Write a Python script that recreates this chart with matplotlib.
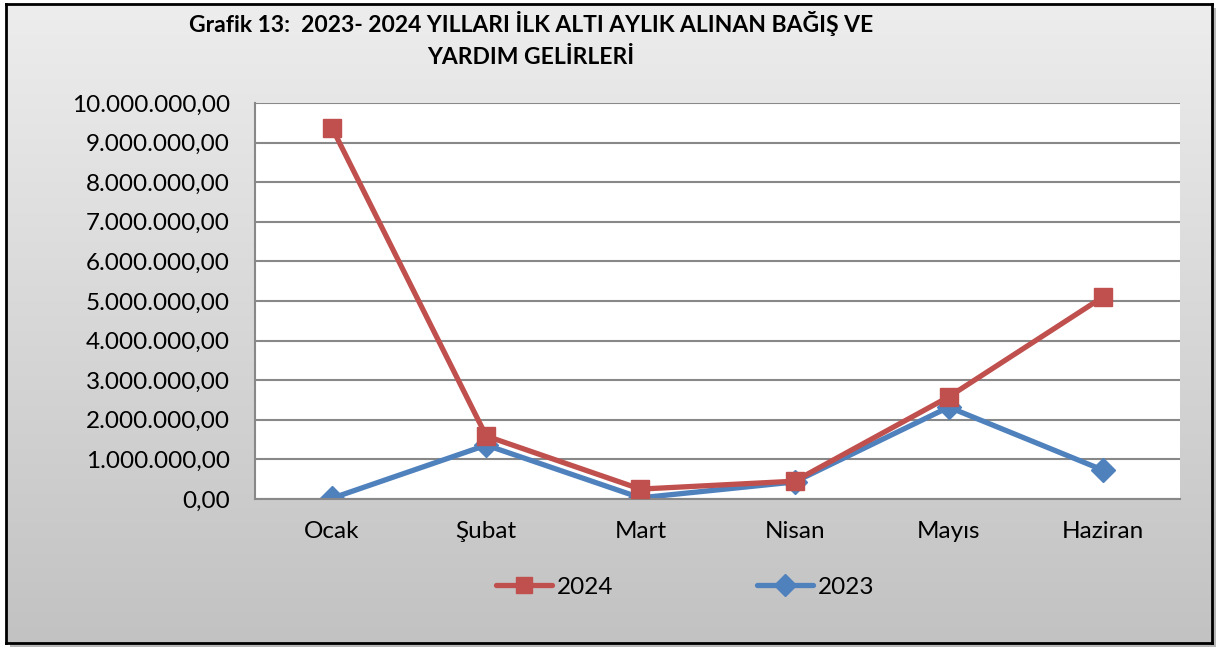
import numpy as np
import matplotlib.pyplot as plt
from matplotlib.patches import Rectangle
from matplotlib.colors import LinearSegmentedColormap
from matplotlib.ticker import FuncFormatter

months = ['Ocak', 'Şubat', 'Mart', 'Nisan', 'Mayıs', 'Haziran']
gelir_2024 = [9370000, 1590000, 250000, 450000, 2580000, 5100000]
gelir_2023 = [20000, 1360000, 30000, 430000, 2320000, 730000]

plt.rcParams['font.family'] = ['Lato', 'DejaVu Sans']

W, H = 1225, 649
fig = plt.figure(figsize=(W / 100, H / 100), dpi=100)
fig.patch.set_facecolor('white')

# shadow behind the frame
fig.patches.append(Rectangle((10 / W, 1 - 647 / H), 1206 / W, 639 / H,
                             transform=fig.transFigure, facecolor='#b8b8b8',
                             edgecolor='none', zorder=-5))
# gradient background with black frame
bg = fig.add_axes([6 / W, 1 - 643 / H, 1206 / W, 639 / H], zorder=0.5)
grad = np.linspace(0, 1, 256).reshape(-1, 1)
bg.imshow(grad, aspect='auto', cmap=LinearSegmentedColormap.from_list('g', ['#ededed', '#c2c2c2']),
          extent=[0, 1, 0, 1], origin='upper')
bg.set_xticks([])
bg.set_yticks([])
for s in bg.spines.values():
    s.set_linewidth(2)
    s.set_color('black')

ax = fig.add_axes([255 / W, 1 - 499 / H, 925 / W, 396 / H], zorder=1)
ax.set_facecolor('white')
x = np.arange(len(months))
ax.plot(x, gelir_2024, color='#C0504D', lw=3.8, marker='s', markersize=13,
        label='2024', zorder=3, solid_capstyle='round')
ax.plot(x, gelir_2023, color='#4F81BD', lw=3.8, marker='D', markersize=12,
        label='2023', zorder=2, solid_capstyle='round')

ax.set_xlim(-0.5, 5.5)
ax.set_ylim(0, 10000000)
ax.set_yticks(np.arange(0, 10000001, 1000000))
ax.yaxis.set_major_formatter(FuncFormatter(
    lambda v, p: '{:,.2f}'.format(v).replace(',', 'X').replace('.', ',').replace('X', '.')))
ax.set_xticks(x)
ax.set_xticklabels(months)
ax.tick_params(axis='both', labelsize=17.5, length=0, colors='black')
ax.tick_params(axis='y', pad=18)
ax.tick_params(axis='x', pad=16)
ax.grid(True, axis='y', color='#888888', lw=1.5)
ax.set_axisbelow(True)
for k in ['top', 'right']:
    ax.spines[k].set_visible(False)
for k in ['left', 'bottom']:
    ax.spines[k].set_color('#888888')
    ax.spines[k].set_linewidth(1.5)

fig.text(531 / W, 1 - 24 / H, 'Grafik 13:  2023- 2024 YILLARI İLK ALTI AYLIK ALINAN BAĞIŞ VE',
         ha='center', va='center', fontsize=16.5, fontweight='bold')
fig.text(531 / W, 1 - 57 / H, 'YARDIM GELİRLERİ',
         ha='center', va='center', fontsize=16.5, fontweight='bold')

fig.legend(loc='center', bbox_to_anchor=(685 / W, 1 - 587 / H), ncol=2, frameon=False,
           fontsize=17.5, columnspacing=5.9, handlelength=2.3, handletextpad=0.2,
           markerscale=0.9)

fig.savefig('out.png', dpi=100)
